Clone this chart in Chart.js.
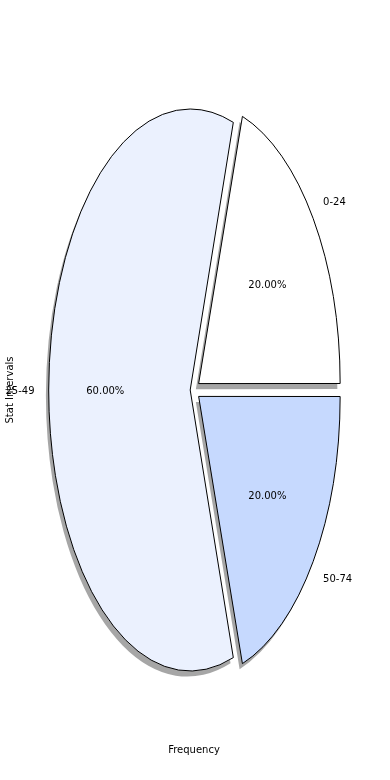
<!DOCTYPE html>
<html><head><meta charset="utf-8">
<script src="https://cdn.jsdelivr.net/npm/chart.js@4/dist/chart.umd.min.js"></script>
<style>html,body{margin:0;padding:0;background:#fff}#wrap{width:390px;height:780px;position:relative}canvas{display:block}</style>
</head><body><div id="wrap"><canvas id="c" width="390" height="780"></canvas></div>
<script>
// Data (drawn clockwise from the upper-right, like the reference's counter-clockwise matplotlib pie)
const categories = ['0-24', '50-74', '25-49'];
const frequencies = [20, 20, 60];
const sliceColors = ['#FFFFFF', '#C6D9FE', '#EBF1FE'];
const explodeOffsets = [22, 22, 16];
const xAxisTitle = 'Frequency';
const yAxisTitle = 'Stat Intervals';

const R = 141.5;          // horizontal radius (px)
const K = 281 / 141.5;    // vertical stretch (non-equal aspect)

const ellipsePlugin = {
  id: 'ellipse',
  afterDatasetUpdate(chart, args) {
    const meta = chart.getDatasetMeta(args.index);
    meta.data.forEach(arc => {
      const off = (arc.options.offset || 0) / 4;
      const circ = arc.endAngle - arc.startAngle;
      const fix = 1 - Math.sin(Math.min(Math.PI, circ));
      arc.outerRadius = R - off * fix;
    });
  },
  beforeDatasetsDraw(chart) {
    const ctx = chart.ctx;
    const arc = chart.getDatasetMeta(0).data[0];
    const cy = arc.y;
    ctx.save();
    const base = ctx.getTransform();
    ctx.translate(0, cy); ctx.scale(1, K); ctx.translate(0, -cy);
    ctx.shadowColor = 'rgba(77,77,77,0.5)';
    ctx.shadowOffsetX = -2.8; ctx.shadowOffsetY = 5.6; ctx.shadowBlur = 0;
    const origStroke = CanvasRenderingContext2D.prototype.stroke;
    ctx.stroke = function (...a) {
      this.save();
      this.setTransform(base);
      this.shadowColor = 'rgba(0,0,0,0)';
      origStroke.apply(this, a);
      this.restore();
    };
  },
  afterDatasetsDraw(chart) {
    const ctx = chart.ctx;
    delete ctx.stroke;
    ctx.restore();
  },
  afterDraw(chart) {
    const ctx = chart.ctx;
    const meta = chart.getDatasetMeta(0);
    const vals = chart.data.datasets[0].data;
    const total = vals.reduce((a, b) => a + b, 0);
    ctx.save();
    ctx.fillStyle = '#000';
    ctx.font = '10px "DejaVu Sans"';
    ctx.textBaseline = 'middle';
    meta.data.forEach((arc, i) => {
      const mid = (arc.startAngle + arc.endAngle) / 2;
      const off = (arc.options.offset || 0) / 4;
      const c = Math.cos(mid), s = Math.sin(mid);
      const bx = arc.x + c * off, by = arc.y + s * off;
      const toY = y => arc.y + (y - arc.y) * K + 1;
      ctx.textAlign = c > 0 ? 'left' : 'right';
      ctx.fillText(chart.data.labels[i], bx + 1.1 * R * c - (c > 0 ? 1.5 : 0), toY(by + 1.1 * R * s));
      ctx.textAlign = 'center';
      ctx.fillText((vals[i] / total * 100).toFixed(2) + '%', bx + 0.6 * R * c, toY(by + 0.6 * R * s));
    });
    ctx.textAlign = 'center';
    ctx.fillText(xAxisTitle, 194, 750);
    ctx.translate(10, 390);
    ctx.rotate(-Math.PI / 2);
    ctx.fillText(yAxisTitle, 0, 0);
    ctx.restore();
  }
};

new Chart(document.getElementById('c'), {
  type: 'pie',
  data: {
    labels: categories,
    datasets: [{
      data: frequencies,
      backgroundColor: sliceColors,
      borderColor: '#000000',
      borderWidth: 1,
      borderJoinStyle: 'miter',
      offset: explodeOffsets,
      clip: false
    }]
  },
  options: {
    responsive: false,
    animation: false,
    devicePixelRatio: 1,
    events: [],
    rotation: 18,
    radius: R,
    layout: { padding: { left: 0, right: 1.6, top: 0, bottom: 0 } },
    plugins: { legend: { display: false }, tooltip: { enabled: false }, title: { display: false } }
  },
  plugins: [ellipsePlugin]
});
</script></body></html>
